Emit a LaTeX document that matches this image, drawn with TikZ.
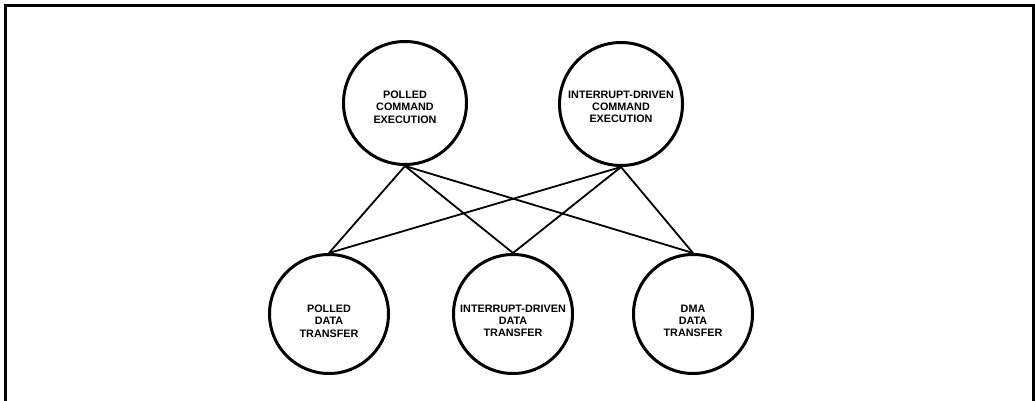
\documentclass[tikz,border=0pt]{standalone}
\usepackage{fontspec}
\setmainfont{Liberation Sans}
\begin{document}
\begin{tikzpicture}[x=1pt,y=-1pt,
  bigbubble/.style={circle,draw,line width=3pt,minimum size=123pt,inner sep=0pt},
  smallbubble/.style={circle,draw,line width=3pt,minimum size=119pt,inner sep=0pt},
  lbl/.style={align=center,inner sep=0pt,font=\fontsize{10.8}{12.3}\selectfont\bfseries},
  link/.style={line width=1.8pt},
  frame/.style={line width=3pt}]
\useasboundingbox (0,0) rectangle (1035,401);
% frame (open at bottom)
\coordinate (fbl) at (5,402);
\coordinate (ftr) at (1033,6);
\coordinate (fbr) at (1033,402);
\draw[frame] (fbl) |- (ftr) -- (fbr);
% circles
\node[bigbubble] (pce) at (405,103) {};
\node[bigbubble] (ice) at (621,104) {};
\node[smallbubble] (pdt) at (329,314) {};
\node[smallbubble] (idt) at (513,314) {};
\node[smallbubble] (ddt) at (693,314) {};
% labels
\node[lbl] (tpce) at (405,107) {POLLED\\COMMAND\\EXECUTION};
\node[lbl] (tice) at (621,107) {INTERRUPT-DRIVEN\\COMMAND\\EXECUTION};
\node[lbl] (tpdt) at (329,321) {POLLED\\DATA\\TRANSFER};
\node[lbl] (tidt) at (513,321) {INTERRUPT-DRIVEN\\DATA\\TRANSFER};
\node[lbl] (tddt) at (693,321) {DMA\\DATA\\TRANSFER};
% connectors
\foreach \t in {pce,ice}
  \foreach \b in {pdt,idt,ddt}
    \draw[link] (\t.south) -- (\b.north);
\end{tikzpicture}
\end{document}
